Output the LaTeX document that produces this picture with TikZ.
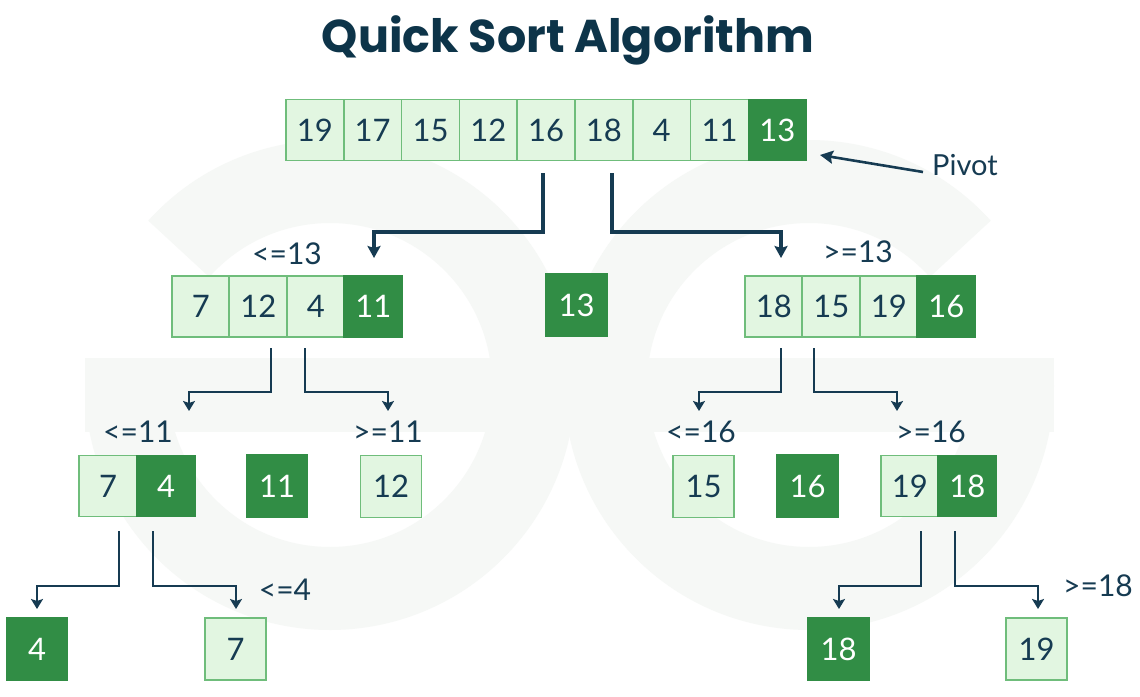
\documentclass[tikz,border=0pt]{standalone}
\usepackage{fontspec}
\setmainfont{Lato}
\newfontfamily\titlefont{Poppins}
\usetikzlibrary{arrows.meta,calc}
\definecolor{ink}{HTML}{163B52}
\definecolor{titleink}{HTML}{0D3449}
\definecolor{cellfill}{HTML}{E2F6E1}
\definecolor{cellborder}{HTML}{6FBD7B}
\definecolor{pivgreen}{HTML}{318D45}
\definecolor{wm}{RGB}{246,248,246}
\begin{document}
\begin{tikzpicture}[x=1pt,y=-1pt,
  cell/.style={draw=cellborder, fill=cellfill, line width=1.6pt, minimum width=58pt, minimum height=61pt, inner sep=0pt, text=ink, font=\fontsize{31}{32}\selectfont},
  piv/.style={cell, fill=pivgreen, draw=pivgreen, text=white},
  single/.style={minimum width=61pt, minimum height=62pt},
  lbl/.style={text=ink, font=\fontsize{30}{31}\selectfont, inner sep=0pt},
  connA/.style={draw=ink, line width=3.2pt, line join=miter, -{Stealth[length=12pt,width=13pt,inset=2pt]}},
  connB/.style={draw=ink, line width=2.3pt, line join=miter, -{Stealth[length=10pt,width=12pt,inset=2pt]}},
  wmark/.style={draw=wm, line width=83pt}
]
\useasboundingbox (0,0) rectangle (1140,696);
\fill[white] (0,0) rectangle (1140,696);
% watermark
\draw[wmark] (330,385) ++(222:203.5) arc[start angle=222, end angle=540, radius=203.5];
\fill[wm] (85,358) rectangle (492,432);
\draw[wmark] (809,385) ++(318:203.5) arc[start angle=318, end angle=0, radius=203.5];
\fill[wm] (647,358) rectangle (1054,432);
% title
\node[text=titleink, font=\titlefont\bfseries\fontsize{46}{54}\selectfont, inner sep=0pt] (title) at (568,40) {Quick Sort Algorithm};
% top array
\foreach \v [count=\i] in {19,17,15,12,16,18,4,11}
  \node[cell] (t\i) at ({314.9+57.8*(\i-1)},130) {\v};
\node[piv] (t9) at ({314.9+57.8*8},130) {13};
% pivot label
\node[text=ink, font=\fontsize{29}{30}\selectfont, inner sep=0pt, anchor=west] (pivlbl) at (932,165) {Pivot};
\coordinate (pstart) at (923,172);
\coordinate (ptip) at (820,155);
\draw[draw=ink, line width=2.6pt, -{Stealth[length=13pt,width=13pt,inset=2pt]}] (pstart) -- (ptip);
% level 2
\foreach \v [count=\i] in {7,12,4}
  \node[cell] (l\i) at ({200.75+57.5*(\i-1)},306.5) {\v};
\node[piv] (l4) at (373.25,306.5) {11};
\node[piv, single] (m13) at (576.5,305) {13};
\foreach \v [count=\i] in {18,15,19}
  \node[cell] (r\i) at ({773.75+57.5*(\i-1)},306.5) {\v};
\node[piv] (r4) at (946.25,306.5) {16};
\node[lbl] (lab13l) at (287,254) {<=13};
\node[lbl] (lab13r) at (858,252) {>=13};
% level 3
\node[cell] (a1) at (108,486) {7};
\node[piv] (a2) at (166,486) {4};
\node[piv, single] (b11) at (277,486) {11};
\node[cell, single] (c12) at (391,486.5) {12};
\node[cell, single] (d15) at (703.5,486.5) {15};
\node[piv, single] (e16) at (807.5,486) {16};
\node[cell] (f1) at (909.75,486) {19};
\node[piv] (f2) at (967.25,486) {18};
\node[lbl] (lab11l) at (138,432) {<=11};
\node[lbl] (lab11r) at (388,432) {>=11};
\node[lbl] (lab16l) at (701,432) {<=16};
\node[lbl] (lab16r) at (931,432) {>=16};
% level 4
\node[piv, single] (g4) at (37,649) {4};
\node[cell, single] (h7) at (235.5,649) {7};
\node[piv, single] (i18) at (838.5,649) {18};
\node[cell, single] (j19) at (1036.5,649) {19};
\node[lbl] (lab4) at (285,590) {<=4};
\node[lbl] (lab18) at (1098,586) {>=18};
% connectors top
\coordinate (s1) at (543,173); \coordinate (e1) at (374,258);
\coordinate (s2) at (612,173); \coordinate (e2) at (781,258);
\draw[connA] (s1) -- ++(0,59) -| (e1);
\draw[connA] (s2) -- ++(0,59) -| (e2);
% connectors level 2
\coordinate (s3) at (271,348); \coordinate (e3) at (189,411);
\coordinate (s4) at (305,348); \coordinate (e4) at (388,411);
\coordinate (s5) at (781,348); \coordinate (e5) at (699,411);
\coordinate (s6) at (814,348); \coordinate (e6) at (897,411);
\draw[connB] (s3) -- ++(0,44) -| (e3);
\draw[connB] (s4) -- ++(0,44) -| (e4);
\draw[connB] (s5) -- ++(0,44) -| (e5);
\draw[connB] (s6) -- ++(0,44) -| (e6);
% connectors level 3
\coordinate (s7) at (119,531); \coordinate (e7) at (37,609);
\coordinate (s8) at (153,531); \coordinate (e8) at (236,609);
\coordinate (s9) at (921,531); \coordinate (e9) at (839,609);
\coordinate (s10) at (955,531); \coordinate (e10) at (1038,609);
\draw[connB] (s7) -- ++(0,55) -| (e7);
\draw[connB] (s8) -- ++(0,55) -| (e8);
\draw[connB] (s9) -- ++(0,55) -| (e9);
\draw[connB] (s10) -- ++(0,55) -| (e10);
\end{tikzpicture}
\end{document}
